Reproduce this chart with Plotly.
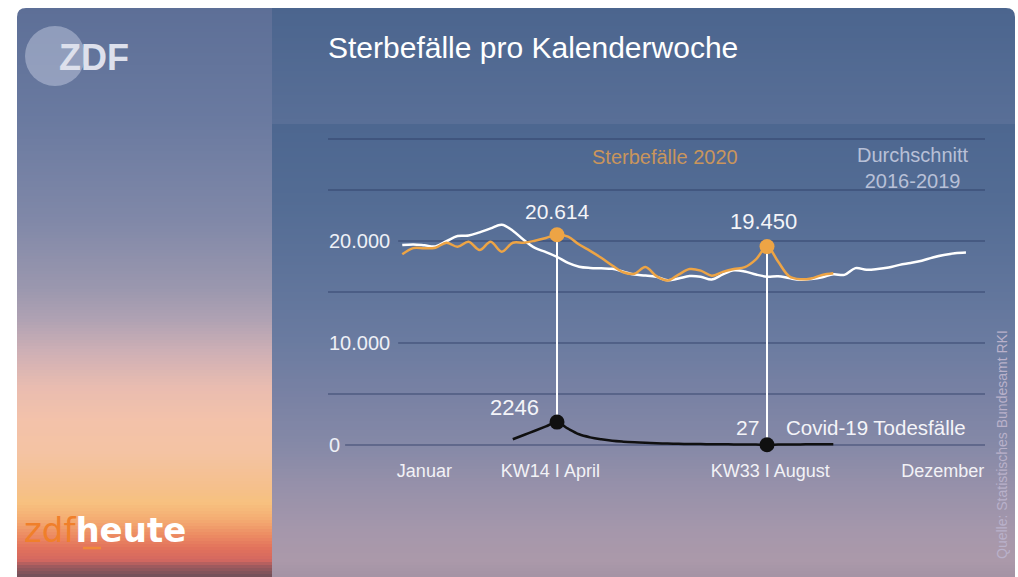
import plotly.graph_objects as go

OFF = 0
W, H = 1018, 577

# ---------------- data ----------------
weeks_avg = list(range(0, 52))
avg_2016_2019 = [19600, 19660, 19580, 19470, 19980, 20490, 20530, 20850, 21240, 21600,
                 21010, 20090, 19320, 18910, 18450, 17850, 17480, 17360, 17320, 17270,
                 16990, 16710, 16620, 16480, 16150, 16330, 16560, 16490, 16220, 16730,
                 17130, 17020, 16710, 16500, 16550, 16360, 16200, 16270, 16440, 16740,
                 16680, 17340, 17180, 17250, 17400, 17660, 17850, 18070, 18390, 18630,
                 18810, 18880]

weeks_2020 = list(range(0, 40))
deaths_2020 = [18700, 19300, 19280, 19340, 19830, 19440, 19930, 19120, 19930, 18950,
               19830, 19830, 20030, 20300, 20614, 20430, 19650, 19030, 18350, 17600,
               16940, 16780, 17450, 16550, 16120, 16710, 17250, 17100, 16600, 16970,
               17250, 17430, 18200, 19450, 17980, 16550, 16250, 16330, 16670, 16830]

weeks_covid = list(range(10, 40))
covid_deaths = [560, 980, 1400, 1820, 2246, 1600, 1050, 750, 560, 420,
                330, 260, 210, 170, 140, 120, 100, 90, 80, 70,
                60, 50, 40, 27, 40, 50, 60, 70, 70, 70]

highlight_weeks = [14, 33]
highlight_deaths = [20614, 19450]
highlight_covid = [2246, 27]
highlight_death_labels = ["20.614", "19.450"]
highlight_covid_labels = ["2246", "27"]

x_tick_pos = [2, 13.4, 33.3, 48.9]
x_tick_labels = ["Januar", "KW14 I April", "KW33 I August", "Dezember"]

y_ticks = [0, 5000, 10000, 15000, 20000, 25000, 30000]
y_tick_labels = ["0", "", "10.000", "", "20.000", "", ""]

title_text = "Sterbefälle pro Kalenderwoche"
source_text = "Quelle: Statistisches Bundesamt RKI"

# ---------------- styling ----------------
FONT = "Liberation Sans, Arial, Helvetica, sans-serif"
ORANGE = "#eda445"
WHITE = "#ffffff"
BLACK = "#101010"


def px(x):
    return (x - OFF) / W


def py(y):
    return 1 - (y - OFF) / H


def hex2rgb(h):
    h = h.lstrip("#")
    return tuple(int(h[i:i + 2], 16) for i in (0, 2, 4))


def grad(stops, y):
    if y <= stops[0][0]:
        return stops[0][1]
    for (y0, c0), (y1, c1) in zip(stops, stops[1:]):
        if y0 <= y <= y1:
            t = (y - y0) / (y1 - y0) if y1 > y0 else 0
            a, b = hex2rgb(c0), hex2rgb(c1)
            r = [round(a[i] + (b[i] - a[i]) * t) for i in range(3)]
            return "rgb(%d,%d,%d)" % tuple(r)
    return stops[-1][1]


left_stops = [(8, "#5d6f97"), (120, "#6a7aa0"), (220, "#8088a8"), (287, "#9a97ae"),
              (320, "#b0a2b3"), (353, "#cfb0b5"), (387, "#e9bcb0"), (420, "#f3c2aa"),
              (453, "#f4c3a3"), (487, "#f5c08c"), (503, "#f7c17f"), (520, "#f4ab72"),
              (535, "#ec8c63"), (548, "#e2725c"), (560, "#d46860"), (566, "#a05a5e"),
              (577, "#6e5059")]
head_stops = [(8, "#4b658e"), (124, "#596f97")]
body_stops = [(124, "#4d6790"), (200, "#536c94"), (260, "#5c7299"), (340, "#6a7ba0"),
              (400, "#7a82a4"), (445, "#8589a7"), (490, "#9891aa"), (530, "#a597ab"),
              (560, "#ab99aa"), (577, "#a493a4")]

shapes = []
LX0, LX1, RX1 = 17, 272, 1015
step = 3
y = 8
while y < 577:
    y2 = min(y + step, 577)
    shapes.append(dict(type="rect", xref="paper", yref="paper", x0=px(LX0), x1=px(LX1),
                       y0=py(y2), y1=py(y), fillcolor=grad(left_stops, y + step / 2),
                       line=dict(width=0), layer="below"))
    stops = head_stops if y < 124 else body_stops
    yy2 = min(y2, 124) if y < 124 else y2
    shapes.append(dict(type="rect", xref="paper", yref="paper", x0=px(LX1), x1=px(RX1),
                       y0=py(yy2), y1=py(y), fillcolor=grad(stops, y + step / 2),
                       line=dict(width=0), layer="below"))
    y = yy2

# rounded top corners of the frame (white masks)
R = 9
for cx, sx in ((LX0, 1), (RX1, -1)):
    xa, xb = px(cx), px(cx + sx * R)
    ya, yb = py(8), py(8 + R)
    shapes.append(dict(type="path", xref="paper", yref="paper",
                       path=f"M {xa},{ya} L {xb},{ya} Q {xa},{ya} {xa},{yb} Z",
                       fillcolor="#ffffff", line=dict(width=0), layer="below"))

# ZDF logo circle
shapes.append(dict(type="circle", xref="paper", yref="paper", x0=px(25), x1=px(85),
                   y0=py(86), y1=py(26), fillcolor="rgba(205,210,230,0.45)",
                   line=dict(width=0), layer="below"))
# zdfheute underline
shapes.append(dict(type="line", xref="paper", yref="paper", x0=px(83), x1=px(101),
                   y0=py(548), y1=py(548), line=dict(color="#f08a3a", width=2.5)))


def text_w(s, size):
    w = 0
    for ch in s:
        w += 0.278 if ch == "." else 0.556
    return w * size


LABEL_X = 327
YLAB_SIZE = 20
for v, lab in zip(y_ticks, y_tick_labels):
    x0 = 328 if lab == "" else LABEL_X + text_w(lab, YLAB_SIZE) + (7 if len(lab) == 1 else 10)
    shapes.append(dict(type="line", xref="paper", yref="y", x0=px(x0), x1=px(985),
                       y0=v, y1=v, line=dict(color="rgba(45,60,100,0.55)", width=1.5),
                       layer="below"))

# ---------------- axes mapping ----------------
s = (445 - 241) / 20000
top_px, bot_px = 130, 458
y_range = [(445 - bot_px) / s, (445 - top_px) / s]
kx = (767 - 557) / (33 - 14)
gx0, gx1 = 328, 985
x_range = [14 + (gx0 - 557) / kx, 14 + (gx1 - 557) / kx]

fig = go.Figure()

for wk, d, c in zip(highlight_weeks, highlight_deaths, highlight_covid):
    fig.add_trace(go.Scatter(x=[wk, wk], y=[c, d], mode="lines",
                             line=dict(color=WHITE, width=2), hoverinfo="skip",
                             showlegend=False))

fig.add_trace(go.Scatter(x=weeks_avg, y=avg_2016_2019, mode="lines",
                         line=dict(color=WHITE, width=2.5, shape="spline", smoothing=1.0),
                         name="Durchschnitt 2016-2019", showlegend=False))
fig.add_trace(go.Scatter(x=weeks_2020, y=deaths_2020, mode="lines",
                         line=dict(color=ORANGE, width=2.5, shape="spline", smoothing=1.0),
                         name="Sterbefälle 2020", showlegend=False))
fig.add_trace(go.Scatter(x=weeks_covid, y=covid_deaths, mode="lines",
                         line=dict(color=BLACK, width=2.5, shape="spline", smoothing=1.0),
                         name="Covid-19 Todesfälle", showlegend=False))
fig.add_trace(go.Scatter(x=highlight_weeks, y=highlight_deaths, mode="markers",
                         marker=dict(color=ORANGE, size=15), showlegend=False))
fig.add_trace(go.Scatter(x=highlight_weeks, y=highlight_covid, mode="markers",
                         marker=dict(color=BLACK, size=15), showlegend=False))

LABEL_COLOR = "#f4f4f8"
annotations = []
for v, lab in zip(y_ticks, y_tick_labels):
    if lab:
        annotations.append(dict(text=lab, xref="paper", yref="y", x=px(LABEL_X), y=v,
                                xanchor="left", yanchor="middle", showarrow=False,
                                font=dict(size=YLAB_SIZE, color="#eef0f6", family=FONT)))
annotations.append(dict(text=highlight_death_labels[0], x=highlight_weeks[0], y=highlight_deaths[0],
                        xref="x", yref="y", showarrow=False, yshift=23,
                        xanchor="center", yanchor="middle",
                        font=dict(size=21, color=LABEL_COLOR, family=FONT)))
annotations.append(dict(text=highlight_death_labels[1], x=highlight_weeks[1], y=highlight_deaths[1],
                        xref="x", yref="y", showarrow=False, yshift=25, xshift=-4,
                        xanchor="center", yanchor="middle",
                        font=dict(size=22, color=LABEL_COLOR, family=FONT)))
annotations.append(dict(text=highlight_covid_labels[0], x=highlight_weeks[0], y=highlight_covid[0],
                        xref="x", yref="y", showarrow=False, xanchor="right", yanchor="middle",
                        xshift=-16, yshift=15,
                        font=dict(size=22, color=LABEL_COLOR, family=FONT)))
annotations.append(dict(text=highlight_covid_labels[1], x=highlight_weeks[1], y=highlight_covid[1],
                        xref="x", yref="y", showarrow=False, xanchor="right", yanchor="middle",
                        xshift=-6, yshift=17,
                        font=dict(size=21, color=LABEL_COLOR, family=FONT)))
annotations.append(dict(text="Covid-19 Todesfälle", x=highlight_weeks[1], y=highlight_covid[1],
                        xref="x", yref="y", showarrow=False, xanchor="left", yanchor="middle",
                        xshift=17, yshift=17,
                        font=dict(size=20.5, color=LABEL_COLOR, family=FONT)))
annotations.append(dict(text="Sterbefälle 2020", xref="paper", yref="paper", x=px(665), y=py(157),
                        xanchor="center", yanchor="middle", showarrow=False,
                        font=dict(size=20, color="#c9955c", family=FONT)))
annotations.append(dict(text="Durchschnitt<br>2016-2019", xref="paper", yref="paper", x=px(913),
                        y=py(168), xanchor="center", yanchor="middle", showarrow=False,
                        align="center",
                        font=dict(size=20, color="#b8c0d7", family=FONT)))
annotations.append(dict(text=title_text, xref="paper", yref="paper", x=px(326), y=py(48),
                        xanchor="left", yanchor="middle", showarrow=False,
                        font=dict(size=30, color="#ffffff", family=FONT)))
annotations.append(dict(text=source_text, xref="paper", yref="paper", x=px(1002), y=py(445),
                        xanchor="center", yanchor="middle", textangle=-90, showarrow=False,
                        font=dict(size=14, color="#b9b1ca", family=FONT)))
annotations.append(dict(text="<b>ZDF</b>", xref="paper", yref="paper", x=px(57), y=py(57),
                        xanchor="left", yanchor="middle", showarrow=False,
                        font=dict(size=36, color="#dde0ec", family=FONT)))
annotations.append(dict(text="<span style='color:#f07f2a'>zdf</span><b>heute</b>", xref="paper",
                        yref="paper", x=px(22), y=py(530), xanchor="left", yanchor="middle",
                        showarrow=False,
                        font=dict(size=34, color="#ffffff", family="DejaVu Sans, sans-serif")))

fig.update_layout(
    width=W, height=H,
    margin=dict(l=0, r=0, t=0, b=0),
    paper_bgcolor="#ffffff", plot_bgcolor="rgba(0,0,0,0)",
    shapes=shapes, annotations=annotations,
    showlegend=False, hovermode=False,
    xaxis=dict(domain=[px(gx0), px(gx1)], range=x_range, showgrid=False, zeroline=False,
               showline=False, ticks="", tickvals=x_tick_pos, ticktext=x_tick_labels,
               tickfont=dict(size=18, color="#f2f2f6", family=FONT), fixedrange=True),
    yaxis=dict(domain=[py(bot_px), py(top_px)], range=y_range, showgrid=False, zeroline=False,
               showline=False, showticklabels=False, ticks="", fixedrange=True),
)

fig.write_html("out.html", config={"displayModeBar": False, "staticPlot": True},
               post_script="document.body.style.margin='0';document.body.style.overflow='hidden';")
